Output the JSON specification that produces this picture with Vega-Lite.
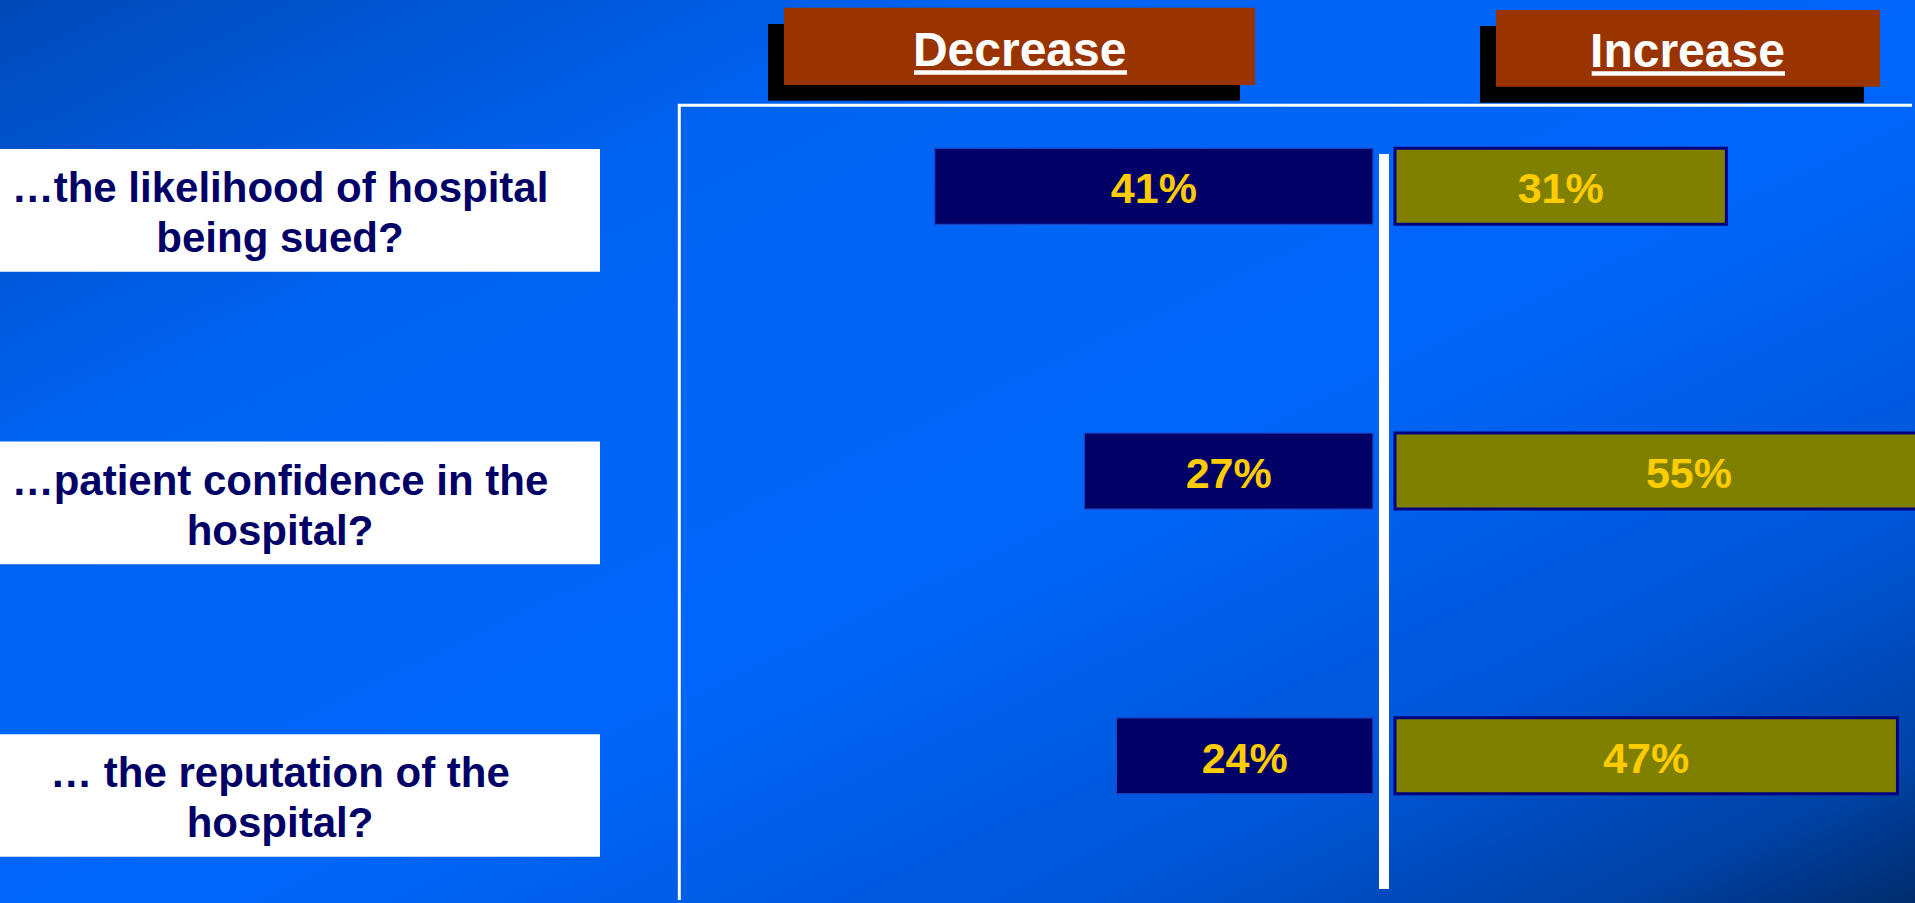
{
  "$schema": "https://vega.github.io/schema/vega-lite/v6.json",
  "width": 1915,
  "height": 903,
  "autosize": {"type": "fit", "contains": "padding"},
  "padding": 0,
  "background": "#0062F2",
  "config": {"view": {"stroke": null}},
  "datasets": {
    "survey": [
      {"question": "…the likelihood of hospital\nbeing sued?", "direction": "Decrease", "share": 0.41},
      {"question": "…the likelihood of hospital\nbeing sued?", "direction": "Increase", "share": 0.31},
      {"question": "…patient confidence in the\nhospital?", "direction": "Decrease", "share": 0.27},
      {"question": "…patient confidence in the\nhospital?", "direction": "Increase", "share": 0.55},
      {"question": "… the reputation of the\nhospital?", "direction": "Decrease", "share": 0.24},
      {"question": "… the reputation of the\nhospital?", "direction": "Increase", "share": 0.47}
    ],
    "questions": [
      {"question": "…the likelihood of hospital\nbeing sued?"},
      {"question": "…patient confidence in the\nhospital?"},
      {"question": "… the reputation of the\nhospital?"}
    ]
  },
  "layer": [
    {
      "data": {"values": [{}]},
      "layer": [
        {
          "mark": {"type": "rect", "fill": {"gradient": "linear", "x1": 0, "y1": 0, "x2": 1, "y2": 1, "stops": [
            {"offset": 0, "color": "#004AB8"},
            {"offset": 0.25, "color": "#0062F0"},
            {"offset": 0.55, "color": "#0066FA"},
            {"offset": 0.78, "color": "#0056D8"},
            {"offset": 0.92, "color": "#0042A6"},
            {"offset": 1, "color": "#002C6C"}]}},
          "encoding": {
            "x": {"datum": -1.29467, "type": "quantitative", "scale": {"domain": [-1.29467, 0.49673], "nice": false, "zero": false}, "axis": null},
            "x2": {"datum": 0.49673},
            "y": {"datum": 0, "type": "quantitative", "scale": {"domain": [903, 0], "nice": false, "zero": false}, "axis": null},
            "y2": {"datum": 903}
          }
        },
        {
          "mark": {"type": "rule", "color": "#FFFFFF", "strokeWidth": 3},
          "encoding": {
            "x": {"datum": -0.65921, "type": "quantitative", "scale": {"domain": [-1.29467, 0.49673], "nice": false, "zero": false}, "axis": null},
            "y": {"datum": 105.3, "type": "quantitative", "scale": {"domain": [903, 0], "nice": false, "zero": false}, "axis": null},
            "y2": {"datum": 900}
          }
        },
        {
          "mark": {"type": "rule", "color": "#FFFFFF", "strokeWidth": 3},
          "encoding": {
            "x": {"datum": -0.66061, "type": "quantitative", "scale": {"domain": [-1.29467, 0.49673], "nice": false, "zero": false}, "axis": null},
            "x2": {"datum": 0.49392},
            "y": {"datum": 105.3, "type": "quantitative", "scale": {"domain": [903, 0], "nice": false, "zero": false}, "axis": null}
          }
        },
        {
          "mark": {"type": "rect", "fill": "#000000"},
          "encoding": {
            "x": {"datum": -0.57624, "type": "quantitative", "scale": {"domain": [-1.29467, 0.49673], "nice": false, "zero": false}, "axis": null},
            "x2": {"datum": -0.13471},
            "y": {"datum": 24, "type": "quantitative", "scale": {"domain": [903, 0], "nice": false, "zero": false}, "axis": null},
            "y2": {"datum": 100.7}
          }
        },
        {
          "mark": {"type": "rect", "fill": "#993300"},
          "encoding": {
            "x": {"datum": -0.56127, "type": "quantitative", "scale": {"domain": [-1.29467, 0.49673], "nice": false, "zero": false}, "axis": null},
            "x2": {"datum": -0.12067},
            "y": {"datum": 7.7, "type": "quantitative", "scale": {"domain": [903, 0], "nice": false, "zero": false}, "axis": null},
            "y2": {"datum": 85}
          }
        },
        {
          "mark": {"type": "text", "text": "Decrease", "font": "Liberation Sans", "fontWeight": "bold", "fontSize": 48, "color": "#FFFFFF", "align": "center", "baseline": "alphabetic"},
          "encoding": {
            "x": {"datum": -0.34079, "type": "quantitative", "scale": {"domain": [-1.29467, 0.49673], "nice": false, "zero": false}, "axis": null},
            "y": {"datum": 65.7, "type": "quantitative", "scale": {"domain": [903, 0], "nice": false, "zero": false}, "axis": null}
          }
        },
        {
          "mark": {"type": "rule", "color": "#FFFFFF", "strokeWidth": 4.5},
          "encoding": {
            "x": {"datum": -0.43966, "type": "quantitative", "scale": {"domain": [-1.29467, 0.49673], "nice": false, "zero": false}, "axis": null},
            "x2": {"datum": -0.24041},
            "y": {"datum": 72.4, "type": "quantitative", "scale": {"domain": [903, 0], "nice": false, "zero": false}, "axis": null}
          }
        },
        {
          "mark": {"type": "rect", "fill": "#000000"},
          "encoding": {
            "x": {"datum": 0.0898, "type": "quantitative", "scale": {"domain": [-1.29467, 0.49673], "nice": false, "zero": false}, "axis": null},
            "x2": {"datum": 0.44902},
            "y": {"datum": 26, "type": "quantitative", "scale": {"domain": [903, 0], "nice": false, "zero": false}, "axis": null},
            "y2": {"datum": 102.7}
          }
        },
        {
          "mark": {"type": "rect", "fill": "#993300"},
          "encoding": {
            "x": {"datum": 0.10477, "type": "quantitative", "scale": {"domain": [-1.29467, 0.49673], "nice": false, "zero": false}, "axis": null},
            "x2": {"datum": 0.46399},
            "y": {"datum": 10, "type": "quantitative", "scale": {"domain": [903, 0], "nice": false, "zero": false}, "axis": null},
            "y2": {"datum": 86.7}
          }
        },
        {
          "mark": {"type": "text", "text": "Increase", "font": "Liberation Sans", "fontWeight": "bold", "fontSize": 48, "color": "#FFFFFF", "align": "center", "baseline": "alphabetic"},
          "encoding": {
            "x": {"datum": 0.28391, "type": "quantitative", "scale": {"domain": [-1.29467, 0.49673], "nice": false, "zero": false}, "axis": null},
            "y": {"datum": 66.7, "type": "quantitative", "scale": {"domain": [903, 0], "nice": false, "zero": false}, "axis": null}
          }
        },
        {
          "mark": {"type": "rule", "color": "#FFFFFF", "strokeWidth": 4.5},
          "encoding": {
            "x": {"datum": 0.1943, "type": "quantitative", "scale": {"domain": [-1.29467, 0.49673], "nice": false, "zero": false}, "axis": null},
            "x2": {"datum": 0.37512},
            "y": {"datum": 73.4, "type": "quantitative", "scale": {"domain": [903, 0], "nice": false, "zero": false}, "axis": null}
          }
        },
        {
          "mark": {"type": "rule", "color": "#FFFFFF", "strokeWidth": 10},
          "encoding": {
            "x": {"datum": 0, "type": "quantitative", "scale": {"domain": [-1.29467, 0.49673], "nice": false, "zero": false}, "axis": null},
            "y": {"datum": 154, "type": "quantitative", "scale": {"domain": [903, 0], "nice": false, "zero": false}, "axis": null},
            "y2": {"datum": 889}
          }
        }
      ]
    },
    {
      "data": {"name": "questions"},
      "layer": [
        {
          "mark": {"type": "rect", "fill": "#FFFFFF"},
          "encoding": {
            "x": {"datum": -1.29467, "type": "quantitative", "scale": {"domain": [-1.29467, 0.49673], "nice": false, "zero": false}, "axis": null},
            "x2": {"datum": -0.7334},
            "y": {"field": "question", "type": "nominal", "scale": {"type": "band", "domain": ["…the likelihood of hospital\nbeing sued?", "…patient confidence in the\nhospital?", "… the reputation of the\nhospital?"], "paddingInner": 0.5807, "paddingOuter": 0.3334, "align": 0.7634, "round": false}, "axis": null}
          }
        },
        {
          "mark": {"type": "text", "font": "Liberation Sans", "fontWeight": "bold", "fontSize": 42, "lineHeight": 50, "lineBreak": "\n", "color": "#000066", "align": "center", "baseline": "middle", "dy": -21},
          "encoding": {
            "x": {"datum": -1.03274, "type": "quantitative", "scale": {"domain": [-1.29467, 0.49673], "nice": false, "zero": false}, "axis": null},
            "y": {"field": "question", "type": "nominal", "scale": {"type": "band", "domain": ["…the likelihood of hospital\nbeing sued?", "…patient confidence in the\nhospital?", "… the reputation of the\nhospital?"], "paddingInner": 0.5807, "paddingOuter": 0.3334, "align": 0.7634, "round": false}, "axis": null},
            "text": {"field": "question", "type": "nominal"}
          }
        }
      ]
    },
    {
      "data": {"name": "survey"},
      "layer": [
        {
          "transform": [
            {"filter": "datum.direction === 'Decrease'"},
            {"calculate": "-datum.share", "as": "signed"},
            {"calculate": "-datum.share / 2", "as": "mid"}
          ],
          "layer": [
            {
              "mark": {"type": "bar", "fill": "#000066", "stroke": "#1E44C8", "strokeWidth": 1.2, "xOffset": -11, "x2Offset": -11, "clip": true},
              "encoding": {
                "x": {"field": "signed", "type": "quantitative", "scale": {"domain": [-1.29467, 0.49673], "nice": false, "zero": false}, "axis": null},
                "x2": {"datum": 0},
                "y": {"field": "question", "type": "nominal", "scale": {"type": "band", "domain": ["…the likelihood of hospital\nbeing sued?", "…patient confidence in the\nhospital?", "… the reputation of the\nhospital?"], "paddingInner": 0.7331, "paddingOuter": 0.45215, "align": 0.576, "round": false}, "axis": null}
              }
            },
            {
              "mark": {"type": "text", "font": "Liberation Sans", "fontWeight": "bold", "fontSize": 43, "color": "#FFCC00", "align": "center", "baseline": "middle", "dy": 4, "xOffset": -11},
              "encoding": {
                "x": {"field": "mid", "type": "quantitative", "scale": {"domain": [-1.29467, 0.49673], "nice": false, "zero": false}, "axis": null},
                "y": {"field": "question", "type": "nominal", "scale": {"type": "band", "domain": ["…the likelihood of hospital\nbeing sued?", "…patient confidence in the\nhospital?", "… the reputation of the\nhospital?"], "paddingInner": 0.7331, "paddingOuter": 0.45215, "align": 0.576, "round": false}, "axis": null},
                "text": {"field": "share", "type": "quantitative", "format": ".0%"}
              }
            }
          ]
        },
        {
          "transform": [
            {"filter": "datum.direction === 'Increase'"},
            {"calculate": "datum.share / 2", "as": "mid"}
          ],
          "layer": [
            {
              "mark": {"type": "bar", "fill": "#808000", "stroke": "#000080", "strokeWidth": 3, "xOffset": 11, "x2Offset": 11, "clip": true},
              "encoding": {
                "x": {"field": "share", "type": "quantitative", "scale": {"domain": [-1.29467, 0.49673], "nice": false, "zero": false}, "axis": null},
                "x2": {"datum": 0},
                "y": {"field": "question", "type": "nominal", "scale": {"type": "band", "domain": ["…the likelihood of hospital\nbeing sued?", "…patient confidence in the\nhospital?", "… the reputation of the\nhospital?"], "paddingInner": 0.7331, "paddingOuter": 0.45215, "align": 0.576, "round": false}, "axis": null}
              }
            },
            {
              "mark": {"type": "text", "font": "Liberation Sans", "fontWeight": "bold", "fontSize": 43, "color": "#FFCC00", "align": "center", "baseline": "middle", "dy": 4, "xOffset": 11},
              "encoding": {
                "x": {"field": "mid", "type": "quantitative", "scale": {"domain": [-1.29467, 0.49673], "nice": false, "zero": false}, "axis": null},
                "y": {"field": "question", "type": "nominal", "scale": {"type": "band", "domain": ["…the likelihood of hospital\nbeing sued?", "…patient confidence in the\nhospital?", "… the reputation of the\nhospital?"], "paddingInner": 0.7331, "paddingOuter": 0.45215, "align": 0.576, "round": false}, "axis": null},
                "text": {"field": "share", "type": "quantitative", "format": ".0%"}
              }
            }
          ]
        }
      ]
    }
  ],
  "resolve": {"scale": {"y": "independent"}}
}
